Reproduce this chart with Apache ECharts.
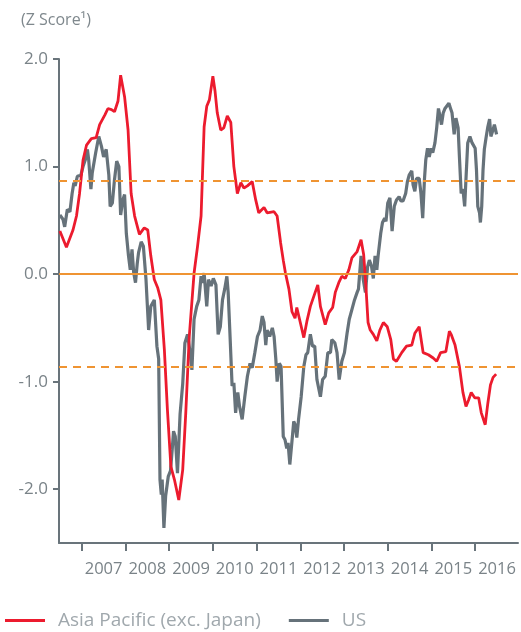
<!DOCTYPE html>
<html>
<head>
<meta charset="utf-8">
<script src="https://cdn.jsdelivr.net/npm/echarts@6/dist/echarts.min.js"></script>
<style>html,body{margin:0;padding:0;background:#fff}#c{width:521px;height:632px}</style>
</head>
<body>
<div id="c"></div>
<script>
// Decimal years and Z scores
const apacYears = [2006.50,2006.65,2006.80,2006.88,2006.95,2007.03,2007.11,2007.22,2007.33,2007.41,2007.53,2007.60,2007.68,2007.75,2007.83,2007.89,2007.98,2008.06,2008.13,2008.21,2008.32,2008.43,2008.51,2008.58,2008.66,2008.74,2008.81,2008.89,2008.96,2009.04,2009.12,2009.22,2009.31,2009.38,2009.46,2009.57,2009.65,2009.73,2009.80,2009.86,2009.92,2010.00,2010.05,2010.10,2010.18,2010.25,2010.33,2010.41,2010.48,2010.56,2010.64,2010.71,2010.79,2010.90,2010.98,2011.05,2011.17,2011.24,2011.40,2011.47,2011.55,2011.61,2011.66,2011.74,2011.81,2011.88,2011.92,2012.00,2012.08,2012.15,2012.23,2012.34,2012.40,2012.46,2012.57,2012.65,2012.74,2012.80,2012.88,2012.95,2013.03,2013.11,2013.18,2013.30,2013.39,2013.45,2013.50,2013.55,2013.60,2013.67,2013.75,2013.82,2013.90,2013.99,2014.07,2014.13,2014.20,2014.32,2014.43,2014.55,2014.62,2014.72,2014.81,2014.93,2015.04,2015.12,2015.21,2015.33,2015.41,2015.45,2015.54,2015.64,2015.72,2015.79,2015.85,2015.91,2015.99,2016.08,2016.14,2016.23,2016.29,2016.35,2016.41,2016.48];
const apacValues = [0.40,0.25,0.41,0.54,0.75,1.06,1.20,1.26,1.27,1.39,1.48,1.54,1.53,1.51,1.61,1.85,1.65,1.34,0.75,0.54,0.37,0.43,0.41,0.17,-0.05,-0.13,-0.24,-0.70,-1.26,-1.79,-1.91,-2.10,-1.82,-1.29,-0.58,0.01,0.26,0.54,1.37,1.56,1.62,1.84,1.70,1.50,1.34,1.36,1.47,1.41,1.00,0.75,0.85,0.80,0.82,0.86,0.69,0.57,0.62,0.57,0.58,0.54,0.29,0.13,0.01,-0.14,-0.35,-0.41,-0.31,-0.45,-0.59,-0.44,-0.30,-0.17,-0.10,-0.30,-0.47,-0.36,-0.31,-0.17,-0.08,-0.02,-0.04,0.04,0.15,0.21,0.32,0.18,-0.11,-0.45,-0.52,-0.56,-0.62,-0.52,-0.45,-0.49,-0.61,-0.79,-0.81,-0.73,-0.67,-0.66,-0.55,-0.49,-0.73,-0.75,-0.78,-0.81,-0.73,-0.72,-0.53,-0.56,-0.66,-0.86,-1.10,-1.23,-1.17,-1.10,-1.15,-1.15,-1.29,-1.40,-1.20,-1.03,-0.96,-0.93];

const usYears = [2006.50,2006.57,2006.61,2006.67,2006.73,2006.78,2006.82,2006.85,2006.90,2006.98,2007.03,2007.08,2007.13,2007.16,2007.21,2007.24,2007.28,2007.32,2007.39,2007.45,2007.50,2007.56,2007.62,2007.65,2007.70,2007.75,2007.80,2007.85,2007.89,2007.94,2007.98,2008.02,2008.07,2008.11,2008.15,2008.19,2008.23,2008.27,2008.30,2008.36,2008.41,2008.47,2008.53,2008.58,2008.66,2008.72,2008.76,2008.79,2008.82,2008.84,2008.88,2008.92,2008.98,2009.03,2009.07,2009.10,2009.14,2009.19,2009.25,2009.31,2009.36,2009.42,2009.48,2009.52,2009.57,2009.63,2009.68,2009.73,2009.77,2009.80,2009.86,2009.90,2009.96,2010.01,2010.07,2010.12,2010.17,2010.22,2010.27,2010.32,2010.35,2010.39,2010.44,2010.48,2010.52,2010.57,2010.61,2010.67,2010.73,2010.79,2010.85,2010.90,2010.96,2011.02,2011.08,2011.13,2011.17,2011.21,2011.24,2011.30,2011.36,2011.40,2011.44,2011.47,2011.52,2011.56,2011.61,2011.65,2011.69,2011.72,2011.76,2011.81,2011.85,2011.88,2011.92,2011.96,2012.02,2012.08,2012.13,2012.17,2012.23,2012.28,2012.33,2012.38,2012.46,2012.51,2012.57,2012.63,2012.69,2012.72,2012.79,2012.84,2012.89,2012.95,2013.01,2013.07,2013.12,2013.18,2013.24,2013.30,2013.33,2013.39,2013.44,2013.49,2013.54,2013.58,2013.63,2013.67,2013.71,2013.75,2013.78,2013.84,2013.88,2013.93,2013.96,2014.00,2014.05,2014.10,2014.15,2014.20,2014.26,2014.30,2014.35,2014.41,2014.45,2014.49,2014.55,2014.58,2014.62,2014.66,2014.72,2014.76,2014.80,2014.84,2014.87,2014.91,2014.95,2014.99,2015.03,2015.08,2015.12,2015.16,2015.19,2015.23,2015.27,2015.31,2015.35,2015.40,2015.42,2015.47,2015.52,2015.56,2015.61,2015.64,2015.68,2015.72,2015.76,2015.80,2015.83,2015.88,2015.93,2015.97,2016.00,2016.03,2016.06,2016.10,2016.12,2016.15,2016.18,2016.21,2016.25,2016.29,2016.33,2016.36,2016.40,2016.44,2016.49];
const usValues = [0.55,0.51,0.44,0.60,0.58,0.75,0.85,0.82,0.91,0.92,1.00,1.06,1.16,1.06,0.79,0.94,0.94,1.13,1.28,1.19,1.09,1.16,0.92,0.63,0.66,0.88,1.05,1.00,0.55,0.69,0.74,0.38,0.17,0.04,0.23,0.01,-0.08,0.10,0.20,0.30,0.26,-0.05,-0.52,-0.30,-0.24,-0.67,-0.79,-1.91,-2.05,-1.91,-2.36,-2.06,-1.88,-1.83,-1.63,-1.46,-1.51,-1.85,-1.30,-1.02,-0.64,-0.56,-0.73,-0.89,-0.42,-0.30,-0.24,-0.02,-0.08,0.01,-0.30,-0.05,-0.11,-0.04,-0.10,-0.56,-0.49,-0.24,-0.14,-0.02,-0.17,-0.55,-1.04,-1.01,-1.29,-1.10,-1.23,-1.35,-1.14,-0.95,-0.83,-0.87,-0.73,-0.58,-0.52,-0.39,-0.45,-0.66,-0.52,-0.58,-0.50,-0.58,-0.79,-1.00,-0.83,-0.86,-1.51,-1.54,-1.62,-1.57,-1.77,-1.55,-1.37,-1.40,-1.52,-1.35,-1.14,-0.86,-0.75,-0.73,-0.56,-0.67,-0.67,-0.98,-1.14,-0.98,-0.95,-0.73,-0.73,-0.61,-0.64,-0.73,-0.98,-0.81,-0.73,-0.55,-0.42,-0.33,-0.24,-0.17,-0.14,0.17,-0.05,-0.17,0.07,0.13,0.07,-0.04,0.17,0.04,0.17,0.38,0.48,0.52,0.49,0.66,0.71,0.40,0.63,0.69,0.72,0.68,0.68,0.75,0.86,0.92,0.96,0.83,0.77,0.89,0.89,0.75,0.52,0.88,1.06,1.17,1.09,1.17,1.13,1.22,1.36,1.54,1.48,1.39,1.50,1.54,1.53,1.59,1.56,1.50,1.30,1.45,1.36,1.09,0.75,0.79,0.63,0.97,1.22,1.28,1.22,1.23,1.17,0.97,0.63,0.57,0.48,0.63,0.97,1.16,1.27,1.37,1.44,1.28,1.33,1.39,1.30];

const yearTicks = [2007,2008,2009,2010,2011,2012,2013,2014,2015,2016];
const yTicks = [-2,-1,0,1,2];
const bandLevels = [0.87,-0.86];
const zeroLevel = 0;

const zip = (xs, ys) => xs.map((x, i) => [x, ys[i]]);
const FONT = '"Open Sans", "Noto Sans", sans-serif';
const axisGrey = '#69747b';

const chart = echarts.init(document.getElementById('c'), null, {renderer: 'canvas'});
chart.setOption({
  animation: false,
  backgroundColor: '#fff',
  title: {
    text: '(Z Score¹)',
    left: 16, top: 7,
    textStyle: {fontFamily: FONT, fontSize: 16, fontWeight: 'normal', color: '#7f888d'}
  },
  grid: {left: 59, right: 3, top: 59, bottom: 89, containLabel: false},
  legend: {
    left: 0, top: 606,
    icon: 'rect', itemWidth: 40, itemHeight: 3, itemGap: 28,
    textStyle: {fontFamily: FONT, fontSize: 19, color: '#a0a8ad', padding: [0, 0, 0, 8]},
    data: ['Asia Pacific (exc. Japan)', 'US']
  },
  xAxis: {
    type: 'value', min: 2006.48, max: 2016.98,
    axisLine: {show: true, onZero: false, lineStyle: {color: axisGrey, width: 2}},
    axisTick: {show: true, length: 8, inside: false, lineStyle: {color: axisGrey, width: 2}, customValues: yearTicks},
    axisLabel: {
      customValues: yearTicks.map(y => y + 0.5),
      formatter: v => String(Math.floor(v)),
      fontFamily: FONT, fontSize: 16.5, color: '#7a8388', margin: 18
    },
    splitLine: {show: false}
  },
  yAxis: {
    type: 'value', min: -2.5, max: 2.0,
    axisLine: {show: true, onZero: false, lineStyle: {color: axisGrey, width: 2}},
    axisTick: {show: true, length: 6, lineStyle: {color: axisGrey, width: 2}, customValues: yTicks},
    axisLabel: {
      customValues: yTicks,
      formatter: v => v.toFixed(1),
      fontFamily: FONT, fontSize: 17, color: '#7a8388', margin: 11
    },
    splitLine: {show: false}
  },
  series: [
    {
      name: 'US', type: 'line', showSymbol: false, symbol: 'none',
      data: zip(usYears, usValues),
      lineStyle: {color: '#66727a', width: 3.2}, itemStyle: {color: '#66727a'},
      z: 2,
      markLine: {
        silent: true, symbol: 'none', label: {show: false},
        data: [
          {yAxis: zeroLevel, lineStyle: {color: '#ef9432', width: 2, type: 'solid'}},
          {yAxis: bandLevels[0], lineStyle: {color: '#ef9432', width: 2, type: [8, 6]}},
          {yAxis: bandLevels[1], lineStyle: {color: '#ef9432', width: 2, type: [8, 6]}}
        ]
      }
    },
    {
      name: 'Asia Pacific (exc. Japan)', type: 'line', showSymbol: false, symbol: 'none',
      data: zip(apacYears, apacValues),
      lineStyle: {color: '#ec1b2e', width: 2.8}, itemStyle: {color: '#ec1b2e'},
      z: 3
    }
  ]
});
</script>
</body>
</html>
